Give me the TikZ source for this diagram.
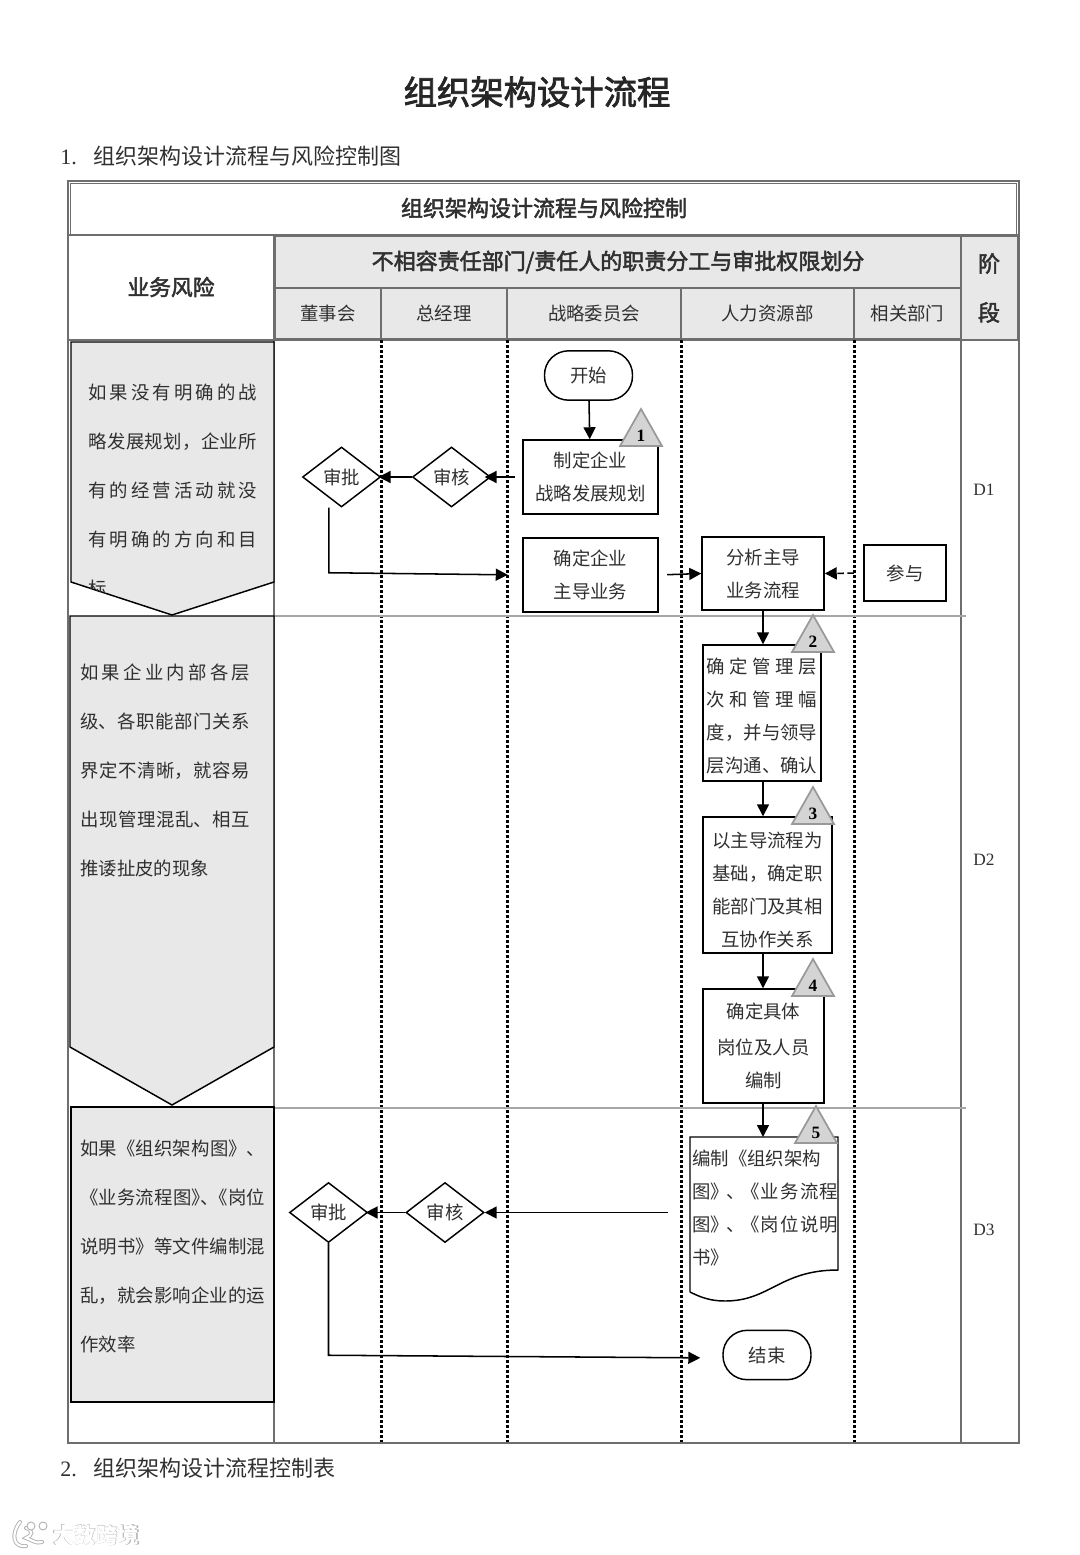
\documentclass[tikz,border=0pt]{standalone}
\usepackage{fontspec}
\setmainfont{Noto Sans CJK SC}
\newfontfamily\latinfont{Liberation Serif}
\newfontfamily\headfont[FakeBold=2.4]{Noto Sans CJK SC}
\usetikzlibrary{arrows.meta,shapes.geometric}
\XeTeXlinebreaklocale "zh"
\XeTeXlinebreakskip=0pt plus 14pt
\tolerance=9999
\hbadness=10000
\hfuzz=3pt
\newcommand\jl[1]{{\parfillskip=0pt #1\par}}
\definecolor{bandgray}{HTML}{E8E8E8}
\definecolor{framegray}{HTML}{6E6E6E}
\definecolor{inkgray}{HTML}{303030}
\tikzset{
    bodyfont/.style={font=\fontsize{13.8pt}{24.75pt}\selectfont},
    riskfont/.style={font=\fontsize{13.8pt}{36.75pt}\selectfont},
    stepbox/.style={draw=black,line width=1.1pt,fill=white,bodyfont,text=inkgray,align=center,inner sep=0pt},
    endbox/.style={stepbox,rounded corners=18pt,minimum width=66pt,minimum height=37pt},
    gate/.style={stepbox,diamond,minimum width=58.5pt,minimum height=45pt},
    flow/.style={line width=1.15pt,-{Triangle[length=9pt,width=9pt]}},
    headcell/.style={draw=framegray,line width=1.1pt,fill=bandgray},
    headtext/.style={font=\fontsize{16.5pt}{20pt}\headfont,text=inkgray},
    band/.style={draw=black,line width=1.1pt,fill=bandgray},
    risktext/.style={riskfont,text=inkgray,align=justify,inner sep=0pt,anchor=north west},
    lane/.style={line width=2.25pt,dash pattern=on 2.1pt off 1.65pt},
    tri/.style={draw=black!40,line width=1.3pt,fill=black!17},
    sideline/.style={draw=black!35,line width=1pt},
}
\begin{document}
\begin{tikzpicture}[x=0.75pt,y=-0.75pt]
    \useasboundingbox (0,0) rectangle (1080,1555);
    % Headings
    \node[font=\fontsize{25pt}{30pt}\headfont,text=black!85] (title) at (537,92) {组织架构设计流程};
    \node[anchor=west,inner sep=0pt,font=\fontsize{16.5pt}{20pt}\selectfont,text=inkgray] (headone) at (60,156) {\makebox[24.75pt][l]{\latinfont 1.}组织架构设计流程与风险控制图};
    \node[anchor=west,inner sep=0pt,font=\fontsize{16.5pt}{20pt}\selectfont,text=inkgray] (headtwo) at (60,1468) {\makebox[24.75pt][l]{\latinfont 2.}组织架构设计流程控制表};
    % Table frame
    \draw[framegray,line width=1.1pt] (68,340) rectangle (1019,1443);
    \draw[framegray,line width=1.1pt] (68,181) rectangle (1019,340);
    \draw[framegray,line width=1.1pt] (70.5,183.5) rectangle (1016.5,337.5);
    \draw[framegray,line width=1.6pt] (68,235) -- (1019,235);
    \draw[framegray,line width=1.1pt] (274,340) -- (274,1443);
    \draw[framegray,line width=1.1pt] (961,340) -- (961,1443);
    \node[headtext] (tabletitle) at (544,208) {组织架构设计流程与风险控制};
    \draw[framegray,line width=1.6pt,fill=white] (68,235) rectangle (274,340);
    \node[font=\fontsize{16.3pt}{20pt}\headfont,text=inkgray] (riskhead) at (171,287) {业务风险};
    \draw[headcell] (275,236) rectangle (961,288) node[midway,headtext] (dutyhead) {不相容责任部门/责任人的职责分工与审批权限划分};
    \draw[headcell] (961,236) rectangle (1018,340);
    \node[font=\fontsize{16.5pt}{36.75pt}\headfont,text=inkgray,align=center] (stagehead) at (989,288) {阶\\段};
    \foreach \xa/\xb/\lab/\name in {275/381/董事会/dong,381/507/总经理/zong,507/681/战略委员会/zhan,681/854/人力资源部/renli,854/961/相关部门/xiang} {
        \draw[headcell] (\xa,288) rectangle (\xb,339) node[midway,bodyfont,text=inkgray] (\name) {\lab};
    }
    % Swimlanes
    \foreach \x in {381,507,681,854} {
        \draw[lane] (\x,340) -- (\x,1442);
    }
    \draw[sideline] (275,616) -- (966,616);
    \draw[sideline] (275,1108) -- (966,1108);
    \foreach \y/\lab in {490/D1,860/D2,1230/D3} {
        \node[font=\fontsize{13pt}{16pt}\latinfont,text=inkgray] (stage\lab) at (984,\y) {\lab};
    }
    % Risk bands
    \draw[band] (71,342) -- (274,342) -- (274,582) -- (172,615) -- (71,582) -- cycle;
    \draw[band] (70,616) -- (274,616) -- (274,1047) -- (172,1105) -- (70,1047) -- cycle;
    \draw[band] (71,1107) rectangle (274,1402);
    \begin{scope}
        \clip (71,342) -- (274,342) -- (274,582) -- (172,615) -- (71,582) -- cycle;
        \node[risktext,text width=126.75pt] (riskone) at (88,384) {\jl{如果没有明确的战}\jl{略发展规划，企业所}\jl{有的经营活动就没}\jl{有明确的方向和目}标\par};
    \end{scope}
    \node[risktext,text width=127.5pt] (risktwo) at (80,664) {\jl{如果企业内部各层}\jl{级、各职能部门关系}\jl{界定不清晰，就容易}\jl{出现管理混乱、相互}推诿扯皮的现象\par};
    \node[risktext,text width=138.75pt] (riskthree) at (80,1140) {\jl{如果《组织架构图》、}\jl{《业务流程图》\kern-.5em、\kern-.5em《岗位}\jl{说明书》等文件编制混}\jl{乱，就会影响企业的运}作效率\par};
    % Steps
    \node[endbox] (start) at (588.5,375.5) {\raisebox{-1.5pt}{开始}};
    \node[stepbox,minimum width=101pt,minimum height=55.5pt] (plan) at (590.5,477) {制定企业\\战略发展规划};
    \node[stepbox,minimum width=101pt,minimum height=55.5pt] (mainbiz) at (590.5,575) {确定企业\\主导业务};
    \node[stepbox,minimum width=91.5pt,minimum height=55pt] (analyse) at (763,573.5) {分析主导\\业务流程};
    \node[stepbox,minimum width=61.5pt,minimum height=42pt] (join) at (905,573) {参与};
    \node[gate] (approveone) at (341.5,477) {\raisebox{-2pt}{审批}};
    \node[gate] (reviewone) at (451.5,477) {\raisebox{-2pt}{审核}};
    \node[stepbox,minimum height=102pt,text width=83pt,align=justify,inner xsep=2.75pt] (levels) at (762,713) {\jl{\rule{0pt}{16pt}确定管理层}\jl{次和管理幅}\jl{度，并与领导}\jl{层沟通、确认}};
    \node[stepbox,minimum width=97pt,minimum height=102pt] (depts) at (767.5,885) {\rule{0pt}{19pt}以主导流程为\\基础，确定职\\能部门及其相\\互协作关系};
    \node[stepbox,minimum width=91pt,minimum height=85.5pt] (posts) at (763.5,1046) {确定具体\\[2.25pt]岗位及人员\\编制};
    \coordinate (docin) at (763,1137);
    \draw[line width=1.1pt,fill=white] (690,1292) -- (690,1137) -- (838,1137) -- (838,1270) .. controls (780,1270) and (770,1301) .. (725,1301) .. controls (710,1301) and (700,1297) .. (690,1292);
    \node[risktext,bodyfont,text width=109.5pt] (doc) at (692,1150) {编制《组织架构\par\jl{图》\kern-.15em、\kern-.15em《业务流程}\jl{图》\kern-.15em、\kern-.15em《岗位说明}书》\par};
    \node[gate] (approvetwo) at (328.5,1212.5) {\raisebox{-1pt}{审批}};
    \node[gate] (reviewtwo) at (445,1212.5) {\raisebox{-1pt}{审核}};
    \node[endbox] (finish) at (767,1355) {结束};
    % Connectors
    \draw[flow] (start) -- (plan);
    \draw[flow,shorten <=5.5pt,shorten >=-5pt] (plan.west) -- (reviewone.east);
    \draw[flow,shorten >=-2pt] (reviewone.west) -- (approveone.east);
    \draw[flow,shorten >=11pt] ([xshift=-9.5pt]approveone.south) -- ++(0,65) -- (mainbiz.west);
    \draw[flow,shorten <=6.5pt] (mainbiz.east) -- (analyse.west);
    \draw[flow,dash pattern=on 5pt off 2.5pt,shorten <=7pt] (join.west) -- (analyse.east);
    \draw[flow] (analyse.south) -- (analyse.south |- levels.north);
    \draw[flow] (analyse.south |- levels.south) -- (analyse.south |- depts.north);
    \draw[flow] (analyse.south |- depts.south) -- (analyse.south |- posts.north);
    \draw[flow] (analyse.south |- posts.south) -- (docin);
    \draw[flow] (doc.west |- reviewtwo.east) ++(-18pt,0) -- (reviewtwo.east);
    \draw[flow,shorten >=-2pt] (reviewtwo.west) -- (approvetwo.east);
    \draw[flow,shorten >=16.5pt] (approvetwo.south) -- ++(0,112) -- ([yshift=-2.25pt]finish.west);
    % Control points
    \foreach \tx/\ty/\num in {641/409/1,813/615/2,813/787/3,813/959/4,816/1106/5} {
        \draw[tri] (\tx,\ty) -- ++(21,37) -- ++(-42,0) -- cycle;
        \node[font=\fontsize{13pt}{16pt}\latinfont\bfseries] (point\num) at (\tx,\ty+27) {\num};
    }
    % Mark
    \draw[black!30,line width=3pt,line cap=round] (20,1522) .. controls (10,1535) and (14,1548) .. (26,1546) (26,1528) .. controls (34,1530) and (32,1536) .. (26,1538) .. controls (32,1540) and (36,1544) .. (42,1542);
    \draw[white,line width=1.6pt,line cap=round] (20,1522) .. controls (10,1535) and (14,1548) .. (26,1546) (26,1528) .. controls (34,1530) and (32,1536) .. (26,1538) .. controls (32,1540) and (36,1544) .. (42,1542);
    \draw[black!30,fill=white,line width=.7pt] (31,1526) circle (4) (43,1526) circle (4);
    \node[font=\fontsize{16.5pt}{20pt}\selectfont\bfseries,text=black!30] (markshadow) at (96,1535.5) {大数跨境};
    \node[font=\fontsize{16pt}{20pt}\selectfont\bfseries,text=white] (mark) at (96,1535.5) {大数跨境};
\end{tikzpicture}
\end{document}
